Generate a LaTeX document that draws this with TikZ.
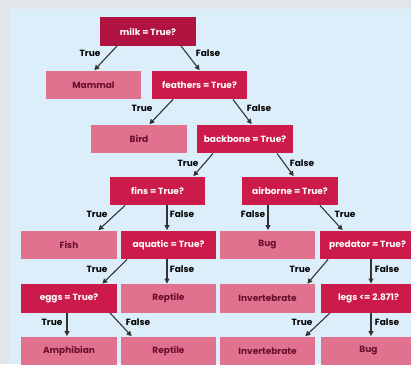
\documentclass[tikz,border=0pt]{standalone}
\usepackage{fontspec}
\setmainfont{Poppins}
\usetikzlibrary{arrows.meta}
\definecolor{outerbg}{HTML}{E2E6E9}
\definecolor{panelbg}{HTML}{DDEEFB}
\definecolor{decis}{HTML}{CC1A4A}
\definecolor{rootc}{HTML}{B01340}
\definecolor{leafc}{HTML}{E0718F}
\definecolor{leaftext}{HTML}{6A0F2A}
\definecolor{edgec}{HTML}{333333}
\tikzset{
  box/.style={rectangle, minimum width=95.5pt, minimum height=28.5pt, inner sep=0pt, font=\bfseries\fontsize{9}{10}\selectfont},
  decision/.style={box, fill=decis, text=white},
  rootbox/.style={box, fill=rootc, text=white},
  leaf/.style={box, fill=leafc, text=leaftext},
  edge/.style={draw=edgec, line width=1.1pt, -{Triangle[length=5pt,width=5pt]}, shorten >=0.5pt},
  elab/.style={font=\bfseries\fontsize{9}{10}\selectfont, text=black, inner sep=0pt},
}
\begin{document}
\begin{tikzpicture}[x=1pt,y=-1pt]
\useasboundingbox (0,0) rectangle (411,364);
\fill[outerbg] (0,0) rectangle (411,364);
\fill[panelbg] (10,9) rectangle (411,364);
\begin{scope}
\clip (0,0) rectangle (411,364);
% nodes
\node[rootbox] (milk) at (148,31.5) {milk = True?};
\node[leaf] (mammal) at (93.5,85) {Mammal};
\node[decision] (feathers) at (199.5,85) {feathers = True?};
\node[leaf] (bird) at (139,139) {Bird};
\node[decision] (backbone) at (245,139) {backbone = True?};
\node[decision] (fins) at (157.5,191) {fins = True?};
\node[decision] (airborne) at (290,191) {airborne = True?};
\node[leaf] (fish) at (69,245) {Fish};
\node[decision] (aquatic) at (168.5,245) {aquatic = True?};
\node[leaf] (bug) at (267.5,245) {Bug};
\node[decision] (predator) at (367.5,245) {predator = True?};
\node[decision] (eggs) at (69,298.5) {eggs = True?};
\node[leaf] (reptile) at (168.5,298.5) {Reptile};
\node[leaf] (invert) at (267.5,298.5) {Invertebrate};
\node[decision] (legs) at (368.5,298.5) {legs <= 2.871?};
\node[leaf] (amphibian) at (69,351) {Amphibian};
\node[leaf] (reptileb) at (168.5,351) {Reptile};
\node[leaf] (invertb) at (267.5,351) {Invertebrate};
\node[leaf] (bugb) at (368.5,351) {Bug};
% edges
\draw[edge] ([xshift=-31pt]milk.south) -- ([xshift=0.5pt]mammal.north);
\draw[edge] ([xshift=33pt]milk.south) -- ([xshift=0.5pt]feathers.north);
\draw[edge] ([xshift=-26.5pt]feathers.south) -- ([xshift=10pt]bird.north);
\draw[edge] ([xshift=33.5pt]feathers.south) -- ([xshift=7pt]backbone.north);
\draw[edge] ([xshift=-32pt]backbone.south) -- ([xshift=35.5pt]fins.north);
\draw[edge] ([xshift=32pt]backbone.south) -- ([xshift=4pt]airborne.north);
\draw[edge] ([xshift=-22pt]airborne.south) -- ([xshift=0.5pt]bug.north);
\draw[edge] ([xshift=30pt]airborne.south) -- ([xshift=-24.5pt]predator.north);
\draw[edge] ([xshift=-32.5pt]fins.south) -- ([xshift=29pt]fish.north);
\draw[edge] ([xshift=9.5pt]fins.south) -- ([xshift=-1.5pt]aquatic.north);
\draw[edge] ([xshift=-39.5pt]predator.south) -- ([xshift=39.5pt]invert.north);
\draw[edge] ([xshift=3.5pt]predator.south) -- ([xshift=2.5pt]legs.north);
\draw[edge] ([xshift=-41.5pt]aquatic.south) -- ([xshift=33pt]eggs.north);
\draw[edge] ([xshift=-1.5pt]aquatic.south) -- ([xshift=-1.5pt]reptile.north);
\draw[edge] ([xshift=-2pt]eggs.south) -- ([xshift=-2pt]amphibian.north);
\draw[edge] ([xshift=41pt]eggs.south) -- ([xshift=-36.5pt]reptileb.north);
\draw[edge] ([xshift=-38.5pt]legs.south) -- ([xshift=37.5pt]invertb.north);
\draw[edge] ([xshift=2.5pt]legs.south) -- ([xshift=2.5pt]bugb.north);
% edge labels
\node[elab] (l1) at (90,53) {True};
\node[elab] (l2) at (208,53) {False};
\node[elab] (l3) at (142,108) {True};
\node[elab] (l4) at (259,108) {False};
\node[elab] (l5) at (188,163) {True};
\node[elab] (l6) at (302,163) {False};
\node[elab] (l7) at (97,214) {True};
\node[elab] (l8) at (182,214) {False};
\node[elab] (l9) at (253,214) {False};
\node[elab] (l10) at (345,214) {True};
\node[elab] (l11) at (97,269) {True};
\node[elab] (l12) at (182,269) {False};
\node[elab] (l13) at (300,269) {True};
\node[elab] (l14) at (387,269) {False};
\node[elab] (l15) at (52,322) {True};
\node[elab] (l16) at (138,322) {False};
\node[elab] (l17) at (302,322) {True};
\node[elab] (l18) at (387,322) {False};
\end{scope}
\end{tikzpicture}
\end{document}
